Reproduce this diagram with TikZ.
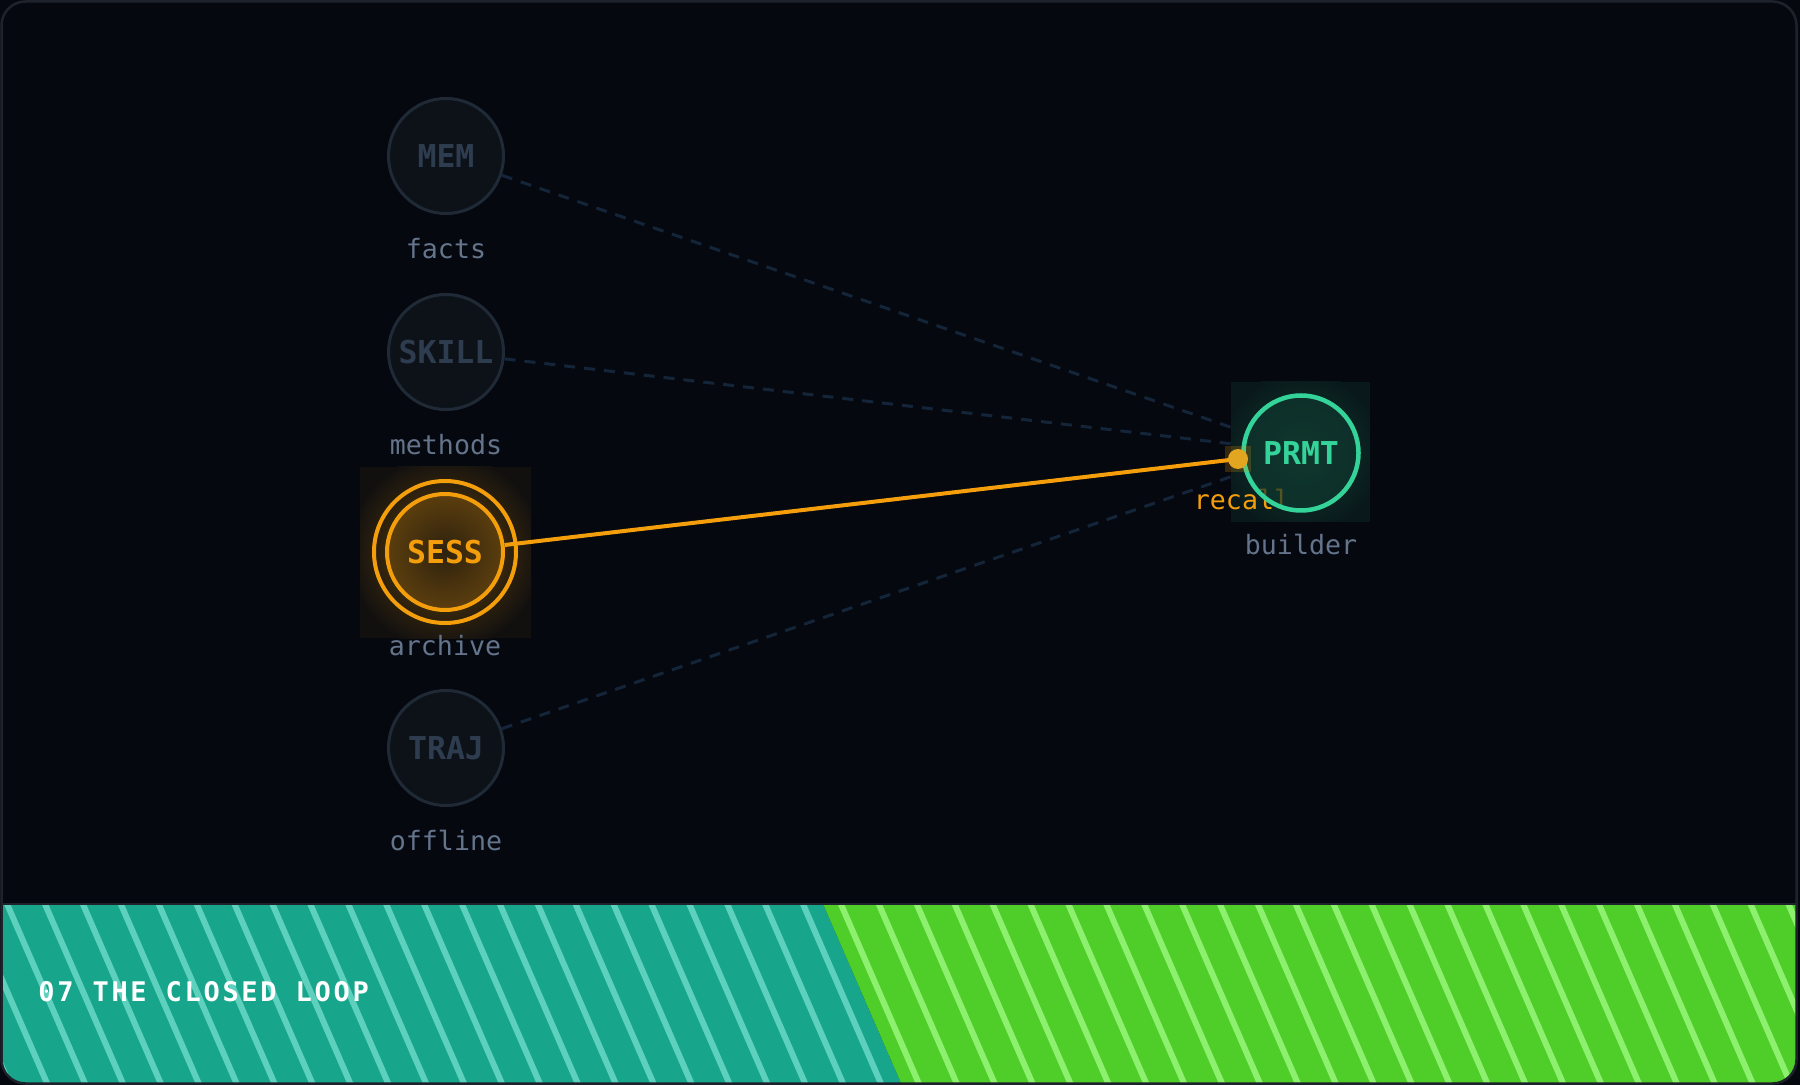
\documentclass[tikz,border=0pt]{standalone}
\usepackage{fontspec}
\setmonofont{DejaVu Sans Mono}
\newfontfamily\titlefont[LetterSpace=10]{DejaVu Sans Mono}
\usetikzlibrary{calc, positioning}

\definecolor{bg}{HTML}{05080F}
\definecolor{framec}{HTML}{1E232B}
\definecolor{idlefill}{HTML}{0D1219}
\definecolor{idleline}{HTML}{1F2A36}
\definecolor{idletext}{HTML}{2E3C4F}
\definecolor{tagtext}{HTML}{64748B}
\definecolor{wirec}{HTML}{14253A}
\definecolor{amber}{HTML}{F59E0B}
\definecolor{dotc}{HTML}{E3A621}
\definecolor{emerald}{HTML}{34D399}
\definecolor{tealband}{HTML}{17A68C}
\definecolor{tealhi}{HTML}{5ED0BE}
\definecolor{greenband}{HTML}{4FCD28}
\definecolor{greenhi}{HTML}{8DF06E}

\begin{document}
\begin{tikzpicture}[
    x=0.5pt, y=-0.5pt,
    mod/.style ={circle, draw=idleline, fill=idlefill, line width=1.5pt,
                 minimum size=57.5pt, inner sep=0pt, text=idletext,
                 font=\ttfamily\bfseries\fontsize{15.75}{15.75}\selectfont},
    hot/.style ={mod, draw=amber, fill=none, line width=2pt, minimum size=58pt,
                 text=amber},
    sink/.style={mod, draw=emerald, fill=emerald!22!bg, fill opacity=0.7,
                 text opacity=1, line width=2.25pt, text=emerald},
    tag/.style ={inner sep=0pt, text=tagtext,
                 font=\ttfamily\fontsize{13.3}{13.3}\selectfont},
    wire/.style={draw=wirec, line width=1.5pt, dash pattern=on 5.5pt off 4.5pt},
    live/.style={draw=amber, line width=2pt},
    stripe/.style={line width=3pt},
]
\useasboundingbox (0,0) rectangle (1800,1085);
\fill[bg] (0,0) rectangle (1800,1085);

% footer band with stripes
\begin{scope}
  \clip[rounded corners=12pt] (2,2) rectangle (1796,1083);
  \clip (0,904) rectangle (1800,1090);
  \fill[tealband] (0,904) -- (823,904) -- (904,1090) -- (0,1090) -- cycle;
  \fill[greenband] (823,904) -- (1800,904) -- (1800,1090) -- (904,1090) -- cycle;
  \foreach \k in {-3,...,21}
    \draw[stripe, tealhi] ({7+37.9*(\k)-6},890) -- ({7+37.9*(\k)+83},1095);
  \foreach \k in {22,...,49}
    \draw[stripe, greenhi] ({7+37.9*(\k)-6},890) -- ({7+37.9*(\k)+83},1095);
\end{scope}
\draw[framec, line width=1pt] (2,903.5) -- (1796,903.5);
\draw[framec, line width=1.25pt, rounded corners=12pt] (1.5,1.5) rectangle (1796.5,1083.5);
\node[anchor=west, text=white, inner sep=0pt,
      font=\titlefont\bfseries\fontsize{13.5}{13.5}\selectfont] (title) at (38,992)
  {07 THE CLOSED LOOP};

% glows
\begin{scope}
  \clip (360,467) rectangle (531,638);
  \fill[amber!5!bg] (360,467) rectangle (531,638);
  \shade[inner color=amber!42!bg, outer color=amber!5!bg] (445,552) circle (98);
  \shade[inner color=amber!17!bg, outer color=amber!36!bg] (445,552) circle (58);
\end{scope}
\begin{scope}
  \clip (1231,382) rectangle (1370,522);
  \fill[emerald!8!bg] (1231,382) rectangle (1370,522);
  \shade[inner color=emerald!26!bg, outer color=emerald!8!bg] (1301,453) circle (82);
\end{scope}

% sources
\node[mod] (mem)   at (446,156) {MEM};
\node[mod] (skill) at (446,352) {SKILL};
\node[hot] (sess)  at (445,552) {SESS};
\node[mod] (traj)  at (446,748) {TRAJ};
\draw[amber, line width=2pt] (sess) circle (71);

\node[tag] (mem-tag)   at ($(mem)+(0,93)$)   {facts};
\node[tag] (skill-tag) at ($(skill)+(0,93)$) {methods};
\node[tag] (sess-tag)  at ($(sess)+(0,94)$)  {archive};
\node[tag] (traj-tag)  at ($(traj)+(0,93)$)  {offline};

% prompt builder
\coordinate (port) at (1238,459);
\node[tag, text=amber] (recall) at (1242,500) {recall};
\node[sink] (prmt) at (1301,453) {PRMT};
\node[tag] (prmt-tag) at ($(prmt)+(0,92)$) {builder};

% links
\coordinate (in-mem)   at (1233,428);
\coordinate (in-skill) at (1233,444);
\coordinate (in-traj)  at (1233,476);
\draw[wire] (mem)   -- (in-mem);
\draw[wire] (skill) -- (in-skill);
\draw[wire] (traj)  -- (in-traj);
\draw[live] (sess) -- (port);
\fill[amber, opacity=0.2] (1225,446) rectangle (1251,472);
\fill[dotc] (port) circle (10);
\end{tikzpicture}
\end{document}
